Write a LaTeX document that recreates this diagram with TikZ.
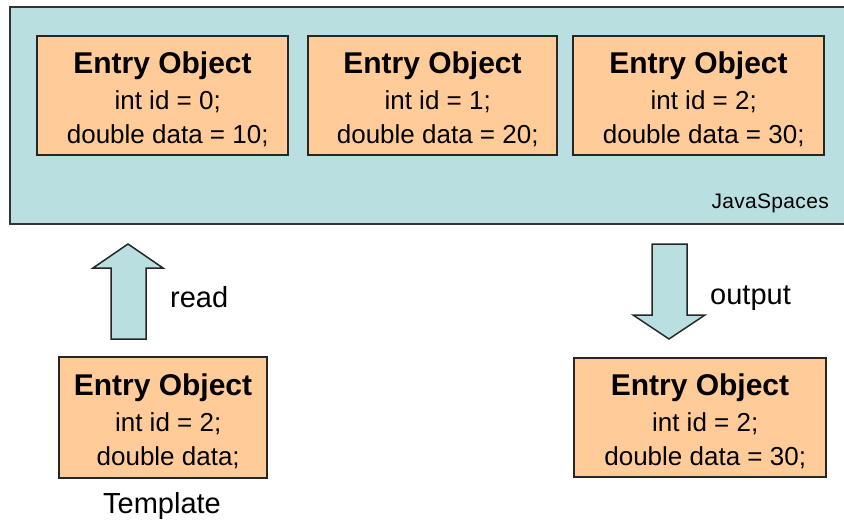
\documentclass[tikz,border=0pt]{standalone}
\usepackage{fontspec}
\setmainfont{Liberation Sans}
\begin{document}
\begin{tikzpicture}[x=1pt,y=-1pt,
  space/.style={draw=black!80,line width=1.8pt,fill=spaceblue},
  entry/.style={draw=black!85,line width=1.5pt,fill=entryorange,inner sep=0pt,
    align=center,minimum height=119pt,font=\fontsize{26}{34}\selectfont},
  bigarrow/.style={draw=black!85,line width=1.5pt,fill=spaceblue,line join=miter},
  lbl/.style={inner sep=0pt,font=\fontsize{29}{32}\selectfont}
]
\definecolor{spaceblue}{HTML}{B9DFE1}
\definecolor{entryorange}{HTML}{FFCC99}
\useasboundingbox (0,0) rectangle (844,524);
\begin{scope}
\clip (0,0) rectangle (844,524);
\draw[space] (10,7) rectangle (850,224);
\end{scope}
\node[inner sep=0pt,anchor=base east,font=\fontsize{21}{24}\selectfont\addfontfeature{LetterSpace=1.5}] (js) at (829,208) {JavaSpaces};

\newcommand{\entrytitle}{{\rule{0pt}{30pt}\fontsize{30}{34}\selectfont\bfseries Entry Object}}
\node[entry,minimum width=251pt] (e0) at (162.5,95.5) {\entrytitle\\[2pt] \hspace*{0.4em}int id = 0;\\ \hspace*{0.4em}double data = 10;};
\node[entry,minimum width=249pt] (e1) at (432.5,95.5) {\entrytitle\\[2pt] \hspace*{0.4em}int id = 1;\\ \hspace*{0.4em}double data = 20;};
\node[entry,minimum width=251pt] (e2) at (698.5,95.5) {\entrytitle\\[2pt] \hspace*{0.4em}int id = 2;\\ \hspace*{0.4em}double data = 30;};

\node[entry,minimum width=208pt,minimum height=121pt] (tpl) at (163,417.5) {\entrytitle\\[2pt] \hspace*{0.4em}int id = 2;\\ \hspace*{0.4em}double data;};
\node[lbl,anchor=center] (tpllbl) at (162,506) {Template};

\node[entry,minimum width=252pt] (out) at (700,417.5) {\entrytitle\\[2pt] \hspace*{0.4em}int id = 2;\\ \hspace*{0.4em}double data = 30;};

% read arrow (up)
\draw[bigarrow] (111,339) -- (111,268) -- (93,268) -- (128,244) -- (163,268) -- (146,268) -- (146,339) -- cycle;
\node[lbl,anchor=west] (readlbl) at (170,297) {read};

% output arrow (down)
\draw[bigarrow] (652,244) -- (687,244) -- (687,315) -- (705,315) -- (669,339) -- (633,315) -- (652,315) -- cycle;
\node[lbl,anchor=west] (outlbl) at (710,298) {output};
\end{tikzpicture}
\end{document}
